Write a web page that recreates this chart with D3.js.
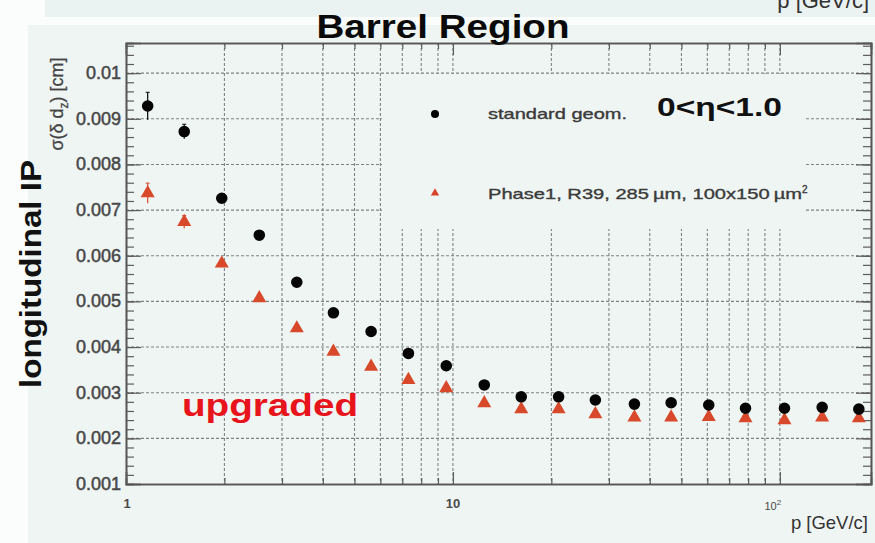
<!DOCTYPE html>
<html>
<head>
<meta charset="utf-8">
<script src="https://cdn.jsdelivr.net/npm/d3@7/dist/d3.min.js"></script>
<style>
  html, body { margin: 0; padding: 0; background: #ffffff; }
  svg { display: block; font-family: "Liberation Sans", Arial, Helvetica, sans-serif; }
</style>
</head>
<body>
<svg id="chart" width="875" height="543"></svg>
<script>
// Momentum bin centres [GeV/c]
const momentum = [1.165, 1.507, 1.963, 2.557, 3.33, 4.31, 5.62, 7.31, 9.54, 12.47,
                  16.18, 21.05, 27.27, 35.9, 46.5, 60.6, 78.5, 103.3, 134.7, 174.4];
// Longitudinal impact-parameter resolution sigma(delta d_z) [cm]
const standardGeom = [0.00928, 0.00872, 0.00726, 0.00645, 0.00542, 0.00475, 0.00434, 0.00386, 0.00359, 0.00317,
                      0.00291, 0.00291, 0.00284, 0.00275, 0.00278, 0.00273, 0.00266, 0.00266, 0.00268, 0.00264];
const standardErr = [0.00030, 0.00016, 0.00008, 0.00006, 0.00004, 0.00003, 0.00003, 0.00002, 0.00002, 0.00002,
                     0.00002, 0.00002, 0.00002, 0.00002, 0.00002, 0.00002, 0.00002, 0.00002, 0.00002, 0.00002];
const phase1 = [0.00737, 0.00674, 0.00583, 0.00507, 0.00441, 0.00390, 0.00357, 0.00328, 0.00310, 0.00277,
                0.00264, 0.00264, 0.00253, 0.00246, 0.00246, 0.00247, 0.00244, 0.00240, 0.00246, 0.00244];
const phase1Err = [0.00022, 0.00014, 0.00008, 0.00005, 0.00004, 0.00003, 0.00003, 0.00002, 0.00002, 0.00002,
                   0.00002, 0.00002, 0.00002, 0.00002, 0.00002, 0.00002, 0.00002, 0.00002, 0.00002, 0.00002];
// Axis labels
const yTicks = [0.001, 0.002, 0.003, 0.004, 0.005, 0.006, 0.007, 0.008, 0.009, 0.01];
const yTickLabels = ["0.001", "0.002", "0.003", "0.004", "0.005", "0.006", "0.007", "0.008", "0.009", "0.01"];
const xMajor = [1, 10, 100];
const xGrid = [2, 3, 4, 5, 6, 7, 8, 9, 10, 20, 30, 40, 50, 60, 70, 80, 90, 100];
const legendLabels = ["standard geom.", "Phase1, R39, 285\u2009\u00b5m, 100x150\u2009\u00b5m"];

const svg = d3.select("#chart");
const panel = "#eff5f3";

// slide backdrop
svg.append("rect").attr("x", 0).attr("y", 0).attr("width", 875).attr("height", 543).attr("fill", "#fbfdfc");
svg.append("rect").attr("x", 45).attr("y", 0).attr("width", 830).attr("height", 17).attr("fill", "#ebf2f2");
svg.append("rect").attr("x", 28).attr("y", 25).attr("width", 847).attr("height", 518).attr("fill", panel);

// axis label of the plot above, running off the slide edge
svg.append("text").attr("x", 869).attr("y", 8).attr("text-anchor", "end")
  .attr("font-size", 22).attr("fill", "#333").text("p [GeV/c]");

const x = d3.scaleLog().domain([1, 190]).range([126, 871]);
const y = d3.scaleLinear().domain([0.001, 0.01066]).range([484, 43]);
const [x0, x1] = x.range();
const [yb, yt] = y.range();

// grid
const grid = svg.append("g").attr("stroke", "#7d8382").attr("stroke-width", 1.1).attr("stroke-dasharray", "3,2");
grid.selectAll("line.v").data(xGrid).join("line")
  .attr("x1", d => x(d)).attr("x2", d => x(d)).attr("y1", yt).attr("y2", yb);
grid.selectAll("line.h").data(yTicks.slice(1)).join("line")
  .attr("x1", x0).attr("x2", x1).attr("y1", d => y(d)).attr("y2", d => y(d));

// legend box (covers the grid)
svg.append("rect").attr("x", 382).attr("y", 74).attr("width", 424).attr("height", 155).attr("fill", panel);

// axes with ticks drawn inside the frame
const yMinor = d3.range(0.001, 0.01066, 0.0002);
svg.append("g").attr("transform", `translate(${x0},0)`)
  .call(d3.axisRight(y).tickValues(yMinor).tickSize(8).tickFormat(""));
svg.append("g").attr("transform", `translate(${x1},0)`)
  .call(d3.axisLeft(y).tickValues(yMinor).tickSize(8).tickFormat(""));
svg.append("g").attr("transform", `translate(${x0},0)`)
  .call(d3.axisRight(y).tickValues(yTicks).tickSize(15).tickFormat(""));
svg.append("g").attr("transform", `translate(${x1},0)`)
  .call(d3.axisLeft(y).tickValues(yTicks).tickSize(15).tickFormat(""));

const xMinor = xGrid.filter(d => !xMajor.includes(d));
svg.append("g").attr("transform", `translate(0,${yb})`)
  .call(d3.axisTop(x).tickValues(xMinor).tickSize(6).tickFormat(""));
svg.append("g").attr("transform", `translate(0,${yb})`)
  .call(d3.axisTop(x).tickValues(xMajor).tickSize(12).tickFormat(""));
svg.append("g").attr("transform", `translate(0,${yt})`)
  .call(d3.axisBottom(x).tickValues(xMinor).tickSize(6).tickFormat(""));
svg.append("g").attr("transform", `translate(0,${yt})`)
  .call(d3.axisBottom(x).tickValues(xMajor).tickSize(12).tickFormat(""));
svg.selectAll(".domain").attr("stroke", "#555").attr("stroke-width", 1.6);
svg.selectAll(".tick line").attr("stroke", "#5c5c5c").attr("stroke-width", 1.2);

// tick labels
svg.append("g").selectAll("text").data(yTicks).join("text")
  .attr("x", 121).attr("y", d => y(d) + 6).attr("text-anchor", "end")
  .attr("font-size", 18).attr("fill", "#474747").attr("stroke", "#474747").attr("stroke-width", 0.5)
  .text((d, i) => yTickLabels[i]);
svg.append("text").attr("x", x(1) + 1).attr("y", 508).attr("text-anchor", "middle")
  .attr("font-size", 13).attr("font-weight", "bold").attr("fill", "#4a4a4a").text("1");
svg.append("text").attr("x", x(10)).attr("y", 508).attr("text-anchor", "middle")
  .attr("font-size", 13).attr("font-weight", "bold").attr("fill", "#4a4a4a").text("10");
const t100 = svg.append("text").attr("x", x(100) - 7).attr("y", 510).attr("text-anchor", "middle")
  .attr("font-size", 11).attr("fill", "#4a4a4a");
t100.append("tspan").text("10");
t100.append("tspan").attr("font-size", 8).attr("dy", -5).text("2");

// axis titles
svg.append("text").attr("x", 868).attr("y", 529).attr("text-anchor", "end")
  .attr("font-size", 18.5).attr("fill", "#333").text("p [GeV/c]");
const yLab = svg.append("text").attr("transform", "translate(63,104) rotate(-90)")
  .attr("text-anchor", "middle").attr("font-size", 18).attr("fill", "#444").attr("stroke", "#444").attr("stroke-width", 0.3);
yLab.append("tspan").text("\u03c3(\u03b4 d");
yLab.append("tspan").attr("font-size", 12).attr("dy", 5).text("z");
yLab.append("tspan").attr("dy", -5).text(") [cm]");
svg.append("text").attr("transform", "translate(41,274) rotate(-90)")
  .attr("text-anchor", "middle").attr("font-size", 30).attr("font-weight", "bold").attr("fill", "#111")
  .attr("textLength", 228).attr("lengthAdjust", "spacingAndGlyphs").text("longitudinal IP");

// title and annotations
svg.append("text").attr("x", 443).attr("y", 38).attr("text-anchor", "middle")
  .attr("font-size", 33).attr("font-weight", "bold").attr("fill", "#0a0a0a")
  .attr("textLength", 253).attr("lengthAdjust", "spacingAndGlyphs").text("Barrel Region");
svg.append("text").attr("x", 182).attr("y", 416)
  .attr("font-size", 31).attr("font-weight", "bold").attr("fill", "#e8141c")
  .attr("textLength", 176).attr("lengthAdjust", "spacingAndGlyphs").text("upgraded");
svg.append("text").attr("x", 657).attr("y", 116)
  .attr("font-size", 26).attr("font-weight", "bold").attr("fill", "#111")
  .attr("textLength", 125).attr("lengthAdjust", "spacingAndGlyphs").text("0<\u03b7<1.0");

// legend
svg.append("circle").attr("cx", 435).attr("cy", 114).attr("r", 4).attr("fill", "#000");
svg.append("path").attr("d", d3.symbol(d3.symbolTriangle, 30)()).attr("transform", "translate(435,193)").attr("fill", "#d8442a");
svg.append("text").attr("x", 488).attr("y", 119).attr("font-size", 15).attr("fill", "#3a3a3a")
  .attr("stroke", "#3a3a3a").attr("stroke-width", 0.35)
  .attr("textLength", 139).attr("lengthAdjust", "spacingAndGlyphs").text(legendLabels[0]);
const l2 = svg.append("text").attr("x", 488).attr("y", 199).attr("font-size", 15).attr("fill", "#3a3a3a")
  .attr("stroke", "#3a3a3a").attr("stroke-width", 0.35);
l2.append("tspan").attr("textLength", 314).attr("lengthAdjust", "spacingAndGlyphs").text(legendLabels[1]);
l2.append("tspan").attr("font-size", 10).attr("dy", -6).text("2");

// error bars and markers
function drawSeries(vals, errs, color, symbol, area) {
  const g = svg.append("g");
  g.selectAll("line").data(momentum).join("line")
    .attr("x1", d => x(d)).attr("x2", d => x(d))
    .attr("y1", (d, i) => y(vals[i] + errs[i])).attr("y2", (d, i) => y(vals[i] - errs[i]))
    .attr("stroke", color).attr("stroke-width", 1.2);
  g.selectAll("line.cap").data(momentum).join("line")
    .attr("x1", d => x(d) - 2).attr("x2", d => x(d) + 2)
    .attr("y1", (d, i) => y(vals[i] + errs[i])).attr("y2", (d, i) => y(vals[i] + errs[i]))
    .attr("stroke", color).attr("stroke-width", 1);
  g.selectAll("path").data(momentum).join("path")
    .attr("d", d3.symbol(symbol, area)())
    .attr("transform", (d, i) => `translate(${x(d)},${y(vals[i])})`)
    .attr("fill", color);
}
drawSeries(phase1, phase1Err, "#d8482a", d3.symbolTriangle, 85);
drawSeries(standardGeom, standardErr, "#050505", d3.symbolCircle, 105);
</script>
</body>
</html>
